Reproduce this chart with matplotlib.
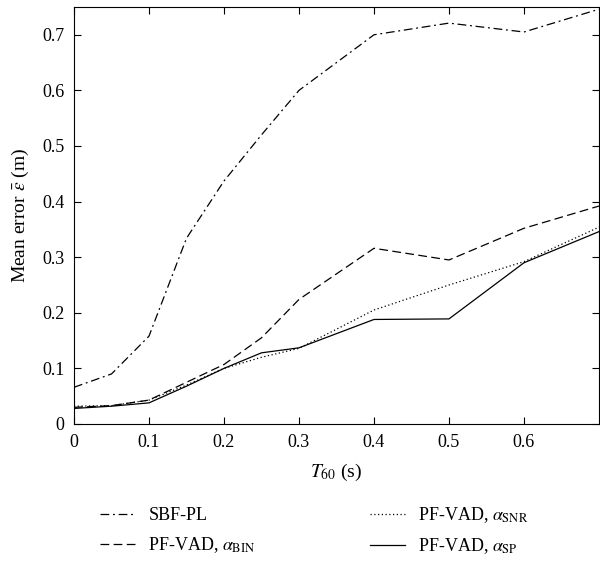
import numpy as np
import matplotlib
matplotlib.use('Agg')
import matplotlib.pyplot as plt

plt.rcParams['font.family'] = ['Liberation Serif', 'DejaVu Serif']
plt.rcParams['mathtext.fontset'] = 'stix'

t60     = [0, 0.05, 0.1, 0.15, 0.2, 0.25, 0.3, 0.4, 0.5, 0.6, 0.7]
sbf_pl  = [0.066, 0.090, 0.158, 0.334, 0.437, 0.520, 0.600, 0.700, 0.721, 0.705, 0.746]
pf_bin  = [0.030, 0.033, 0.043, 0.075, 0.107, 0.155, 0.224, 0.316, 0.295, 0.352, 0.392]
pf_snr  = [0.032, 0.033, 0.043, 0.070, 0.100, 0.120, 0.136, 0.205, 0.250, 0.292, 0.354]
pf_sp   = [0.028, 0.032, 0.038, 0.068, 0.100, 0.128, 0.137, 0.188, 0.189, 0.290, 0.346]
labels  = ['SBF-PL', r'PF-VAD, $\alpha_{\mathrm{BIN}}$',
           r'PF-VAD, $\alpha_{\mathrm{SNR}}$', r'PF-VAD, $\alpha_{\mathrm{SP}}$']

fig = plt.figure(figsize=(6, 5.63), dpi=100)
ax = fig.add_axes([0.1233, 0.2469, 0.875, 0.7407])

ax.plot(t60, sbf_pl, color='k', lw=0.9, dashes=(7, 3, 1.5, 3), label=labels[0])
ax.plot(t60, pf_bin, color='k', lw=0.9, dashes=(7, 3.5), label=labels[1])
ax.plot(t60, pf_snr, color='k', lw=0.9, dashes=(1, 2), label=labels[2])
ax.plot(t60, pf_sp, color='k', lw=0.9, ls='-', label=labels[3])

ax.set_xlim(0, 0.7)
ax.set_ylim(0, 0.75)
ax.set_xticks(np.arange(0, 0.61, 0.1))
ax.set_xticklabels(['0', '0.1', '0.2', '0.3', '0.4', '0.5', '0.6'])
ax.set_yticks(np.arange(0, 0.71, 0.1))
ax.set_yticklabels(['0', '0.1', '0.2', '0.3', '0.4', '0.5', '0.6', '0.7'])
ax.tick_params(direction='in', top=True, right=True, labelsize=13, length=5, width=0.8, pad=7)
for s in ax.spines.values():
    s.set_linewidth(0.8)

ax.set_xlabel(r'$T_{60}$ (s)', size=14, labelpad=8)
ax.set_ylabel(r'Mean error $\bar{\varepsilon}$ (m)', size=14, labelpad=8)

fig.legend(loc='upper left', bbox_to_anchor=(0.155, 0.115), ncol=2, frameon=False,
           fontsize=13, handlelength=1.95, columnspacing=6.3, labelspacing=0.6,
           borderaxespad=0, handletextpad=0.72)

plt.savefig('out.png', dpi=100)
